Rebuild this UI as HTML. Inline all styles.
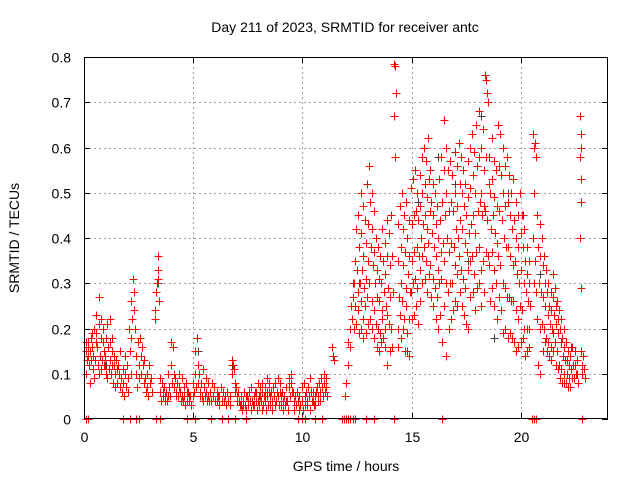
<!DOCTYPE html>
<html><head><meta charset="utf-8"><style>
body{margin:0;background:#fff;}
svg{display:block;font-family:"Liberation Sans",sans-serif;}
</style></head><body>
<svg id="chart" width="640" height="480">
<rect width="640" height="480" fill="#fff"/>
<text x="345" y="32" font-size="14" text-anchor="middle">Day 211 of 2023, SRMTID for receiver antc</text>
<text transform="translate(19,238) rotate(-90)" font-size="14" text-anchor="middle">SRMTID / TECUs</text>
<text x="346" y="471" font-size="14" text-anchor="middle">GPS time / hours</text>
<g id="grid"></g>
<g id="ticks"></g>
<g id="gray" stroke="#404040" fill="none"></g>
<g id="pts" stroke="#ff0000" fill="none"></g>
<rect x="84.5" y="57.5" width="523" height="361" fill="none" stroke="#000" stroke-width="1"/>
</svg>
<script>
const xTicks=[0,5,10,15,20];
const yTicks=[0,0.1,0.2,0.3,0.4,0.5,0.6,0.7,0.8];
const yTickLabels=["0","0.1","0.2","0.3","0.4","0.5","0.6","0.7","0.8"];
// each row: [time (hours), value, value, ...]
const samples=[
[0.1,.17,.15,.13,.1],[0.2,.16,.14,.12,.17],[0.3,.15,.18,.13,.08],[0.4,.19,.14,.11,.16],[0.5,.2,.13,.17,.09],[0.6,.23,.16,.12,.19],[0.7,.27,.21,.14,.1],[0.8,.22,.18,.13,.11],[0.9,.17,.12,.15,.2],[1.0,.14,.1,.18,.12],
[1.1,.21,.16,.11,.09],[1.2,.22,.13,.1,.17],[1.3,.18,.12,.08,.15],[1.4,.14,.1,.07,.12],[1.5,.13,.11,.08],[1.6,.12,.1,.07],[1.7,.15,.09,.06],[1.8,.11,.08,.05],[1.9,.14,.1,.07],[2.0,.12,.09,.06],
[2.1,.2,.15,.1],[2.2,.26,.22,.31,.18],[2.3,.28,.24,.2],[2.4,.14,.1,.07],[2.5,.17,.12,.09],[2.6,.18,.14,.1],[2.7,.16,.12,.08],[2.8,.13,.09,.06],[2.9,.1,.07,.05],[3.0,.12,.08],
[3.1,.09,.06],[3.3,.24,.28,.3,.22],[3.4,.33,.36,.26,.31],[3.5,.09,.06,.04],[3.6,.08,.05,.06],[3.7,.07,.05,.04],[3.8,.06,.04,.05],[3.9,.1,.07,.05],[4.0,.17,.12,.08],[4.1,.16,.1,.07],
[4.2,.09,.06,.05],[4.3,.08,.05,.07],[4.4,.1,.06,.04],[4.5,.09,.05,.04],[4.6,.07,.05,.03],[4.7,.08,.06,.04],[4.8,.06,.04,.05],[4.9,.05,.03],[5.0,.08,.05,.06],[5.1,.15,.1,.07],
[5.2,.18,.12,.08],[5.3,.1,.06,.05],[5.4,.08,.05,.04],[5.5,.11,.07,.05],[5.6,.09,.06,.04],[5.7,.08,.05,.04],[5.8,.06,.04],[5.9,.08,.05],[6.0,.07,.04],[6.1,.06,.04,.05],
[6.2,.05,.03],[6.3,.07,.04],[6.4,.06,.04],[6.5,.05,.03],[6.6,.06,.04],[6.7,.05,.03],[6.8,.13,.1,.12],[6.9,.11,.08,.06],[7.0,.07,.05,.04],[7.1,.06,.04,.03],
[7.2,.05,.03,.02],[7.3,.04,.03,.06],[7.4,.03,.02,.05],[7.5,.05,.03,.04],[7.6,.06,.04,.02],[7.7,.07,.04,.03],[7.8,.05,.03,.06],[7.9,.06,.04,.02],[8.0,.08,.05,.03,.04],[8.1,.07,.04,.02,.05],
[8.2,.06,.03,.05,.08],[8.3,.07,.04,.02,.05],[8.4,.09,.06,.03,.05],[8.5,.08,.05,.03,.06],[8.6,.06,.04,.02],[8.7,.07,.05,.03],[8.8,.08,.04,.06],[8.9,.09,.05,.03],[9.0,.08,.05,.03,.06],[9.1,.06,.04,.02],
[9.2,.05,.03,.04],[9.3,.07,.04,.02],[9.4,.09,.07,.05],[9.5,.1,.08,.06],[9.6,.06,.04,.02],[9.7,.05,.03],[9.8,.06,.04,.02],[9.9,.05,.03],[10.0,.07,.04,.02],[10.1,.08,.05,.03],
[10.2,.06,.04,.03],[10.3,.07,.05,.02],[10.4,.09,.06,.04],[10.5,.06,.04,.03],[10.6,.05,.03,.06],[10.7,.07,.05,.04],[10.8,.08,.06,.04],[10.9,.09,.07,.05],[11.0,.1,.08,.06],[11.1,.09,.07,.05],
[11.4,.16,.14,.13],[12.0,.05,.08],[12.1,.12,.17],[12.2,.2,.16,.25],[12.3,.22,.27,.3],[12.4,.3,.35,.25,.2],[12.5,.42,.33,.28,.21],[12.6,.45,.38,.3,.24,.19],[12.7,.5,.41,.33,.26,.2],[12.8,.47,.36,.29,.22,.18],
[12.9,.44,.39,.31,.25,.19],[13.0,.52,.43,.35,.27,.21],[13.1,.56,.48,.38,.3,.22],[13.2,.5,.42,.34,.26,.2],[13.3,.46,.37,.3,.24,.18],[13.4,.4,.33,.27,.21,.16],[13.5,.38,.31,.26,.2,.15],[13.6,.36,.3,.24,.19,.17],[13.7,.42,.35,.28,.22,.18],[13.8,.39,.32,.25,.2,.16],
[13.9,.44,.36,.29,.23,.12],[14.0,.41,.34,.27,.21,.15],[14.1,.45,.36,.28,.2,.16],[14.25,.785,.78,.72,.67,.58],[14.4,.43,.35,.27,.2,.16],[14.5,.47,.38,.3,.23,.18],[14.6,.5,.42,.34,.26,.2],[14.7,.45,.37,.29,.22,.15],[14.8,.48,.4,.32,.25,.19],[14.9,.44,.36,.28,.22,.14],
[15.0,.51,.43,.35,.28,.22],[15.1,.53,.45,.37,.3,.23],[15.2,.55,.46,.38,.31,.25],[15.3,.5,.44,.36,.29,.21],[15.4,.54,.47,.4,.33,.26],[15.5,.58,.5,.43,.36,.3],[15.6,.6,.52,.45,.38,.31],[15.7,.57,.49,.42,.35,.28],[15.8,.62,.53,.46,.39,.32],[15.9,.55,.48,.41,.34,.27],
[16.0,.52,.45,.38,.31,.25],[16.1,.5,.43,.36,.29,.22],[16.2,.47,.4,.33,.27,.2],[16.3,.53,.44,.37,.3,.23],[16.4,.58,.48,.39,.31,.17],[16.5,.66,.55,.45,.35,.25],[16.6,.6,.5,.4,.3,.14],[16.7,.55,.46,.37,.28,.2],[16.8,.57,.48,.39,.3,.22],[16.9,.54,.46,.38,.3,.24],
[17.0,.59,.5,.42,.34,.26],[17.1,.56,.47,.4,.32,.25],[17.2,.61,.52,.44,.36,.28],[17.3,.58,.5,.42,.33,.25],[17.4,.55,.47,.39,.31,.23],[17.5,.52,.45,.37,.29,.21],[17.6,.57,.49,.41,.33,.2],[17.7,.6,.51,.43,.35,.27],[17.8,.63,.54,.45,.36,.28],[17.9,.59,.5,.41,.32,.24],
[18.0,.65,.56,.46,.37,.29],[18.1,.68,.58,.48,.38,.3],[18.2,.6,.5,.45,.33,.25],[18.3,.64,.55,.47,.35,.28],[18.4,.76,.75,.58,.46,.37],[18.5,.72,.7,.52,.44,.36],[18.6,.58,.5,.42,.34,.26],[18.7,.62,.53,.45,.37,.29],[18.8,.57,.49,.41,.33,.25],[18.9,.55,.47,.39,.3,.22],
[19.0,.65,.56,.46,.36,.27],[19.1,.63,.54,.44,.34,.24],[19.2,.6,.5,.4,.3,.19],[19.3,.56,.47,.38,.29,.2],[19.4,.58,.48,.38,.27,.18],[19.5,.54,.45,.36,.27,.19],[19.6,.5,.42,.34,.26,.18],[19.7,.53,.44,.35,.26,.17],[19.8,.48,.4,.32,.24,.15],[19.9,.45,.38,.3,.22,.16],
[20.0,.5,.41,.33,.25,.17],[20.1,.45,.38,.3,.24,.18],[20.2,.42,.35,.28,.2,.14],[20.3,.38,.32,.26,.2,.15],[20.4,.35,.3,.25,.2,.16],[20.6,.63,.6,.5,.4,.3],[20.7,.61,.58,.45,.35,.28],[20.8,.45,.38,.3,.22,.12],[20.9,.43,.36,.28,.2,.1],[21.0,.4,.34,.27,.21,.15],
[21.1,.36,.3,.25,.2,.17],[21.2,.33,.28,.23,.18,.15],[21.3,.3,.25,.21,.17,.14],[21.4,.28,.24,.2,.16,.13],[21.5,.32,.27,.23,.19,.15],[21.6,.29,.25,.21,.17,.12],[21.7,.26,.22,.19,.15,.11],[21.8,.24,.2,.17,.12,.09],[21.9,.22,.18,.14,.11,.08],[22.0,.2,.16,.13,.1,.08],
[22.1,.17,.13,.1,.08],[22.2,.15,.12,.09,.07],[22.3,.14,.11,.09,.07],[22.4,.16,.12,.09],[22.5,.15,.12,.1],[22.6,.13,.1,.08],[22.75,.67,.63,.6,.58,.53,.48,.4,.29],[22.8,.15,.12,.1],[22.9,.14,.11,.09]];
const zeroTimes=[0.1,0.2,1.8,2.1,2.4,2.5,3.3,3.5,4.7,5.1,5.8,6.3,6.6,6.9,7.4,9.8,10.0,10.1,10.6,10.9,11.8,11.9,12.0,12.1,12.2,12.3,12.4,12.9,13.3,14.2,16.4,20.5,20.6,20.7,22.8];
const grayTimes=[0.4,1.0,3.4,5.2,6.8,8.5,11.0,12.6,13.2,14.8,15.3,16.2,17.0,17.6,18.2,18.8,19.4,20.1,20.9,21.6,22.3];
const grayValues=[0.14,0.12,0.3,0.15,0.12,0.05,0.08,0.3,0.42,0.15,0.48,0.58,0.52,0.35,0.67,0.18,0.5,0.45,0.32,0.25,0.16];

const X0=84,X1=608,Y0=419,Y1=57;
const xs=t=>X0+(t/24)*(X1-X0);
const ys=v=>Y0-(v/0.8)*(Y0-Y1);
const NS="http://www.w3.org/2000/svg";
function mk(tag,attrs,parent){const e=document.createElementNS(NS,tag);for(const k in attrs)e.setAttribute(k,attrs[k]);parent.appendChild(e);return e;}
const grid=document.getElementById('grid'),tk=document.getElementById('ticks');
yTicks.forEach((v,i)=>{
  const y=Math.round(ys(v))+0.5;
  if(i>0&&i<yTicks.length-1){const g=mk('line',{x1:X0,x2:X1,y1:y,y2:y,stroke:'#a0a0a0','stroke-dasharray':'2,3'},grid);
  
  }
  mk('line',{x1:X0,x2:X0+6,y1:y,y2:y,stroke:'#000'},tk);
  mk('line',{x1:X1,x2:X1-6,y1:y,y2:y,stroke:'#000'},tk);
  const t=mk('text',{x:71,y:y+5,'font-size':14,'text-anchor':'end'},tk);t.textContent=yTickLabels[i];
  
  
});
xTicks.forEach(v=>{
  const x=Math.round(xs(v))+0.5;
  if(v>0){const g=mk('line',{x1:x,x2:x,y1:Y1,y2:Y0,stroke:'#a0a0a0','stroke-dasharray':'2,3'},grid);
  
  }
  mk('line',{x1:x,x2:x,y1:Y0,y2:Y0-6,stroke:'#000'},tk);
  mk('line',{x1:x,x2:x,y1:Y1,y2:Y1+6,stroke:'#000'},tk);
  const t=mk('text',{x:x,y:442,'font-size':14,'text-anchor':'middle'},tk);t.textContent=String(v);
  
  
});
function plusD(x,y){const cx=Math.round(x)+0.5,cy=Math.round(y)+0.5;return `M${cx-4},${cy}h8M${cx},${cy-4}v8`;}
const redG=document.getElementById('pts'),grayG=document.getElementById('gray');
function marker(g,x,y,name){
  const m=mk('path',{d:plusD(x,y)},g);
  
  
}
samples.forEach(row=>{
  const t=row[0];
  row.slice(1).forEach((v,j)=>{marker(redG,xs(t+(j%3-1)*0.03),ys(v),'srmtid-point');});
});
zeroTimes.forEach(t=>{marker(redG,xs(t),ys(0),'zero-point');});
grayTimes.forEach((t,i)=>{marker(grayG,xs(t),ys(grayValues[i]),'secondary-point');});
</script>
</body></html>
